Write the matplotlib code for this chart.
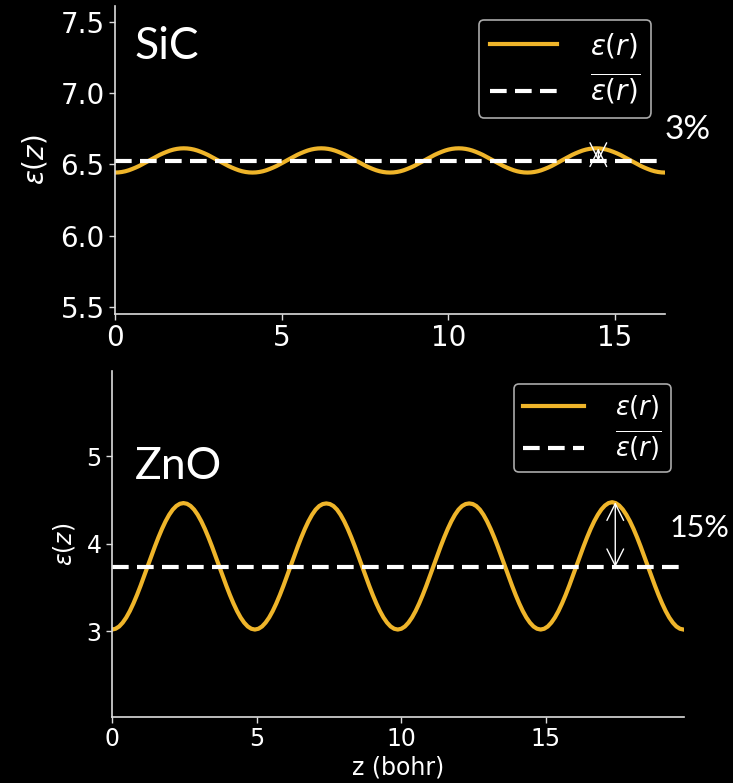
import numpy as np
import matplotlib
matplotlib.use("Agg")
import matplotlib.pyplot as plt

# ---------------- data ----------------
sic_z_max = 16.5
sic_eps = [
    6.442, 6.443, 6.446, 6.451, 6.458, 6.467, 6.477, 6.488, 6.501, 6.514,
    6.527, 6.540, 6.553, 6.566, 6.577, 6.587, 6.596, 6.603, 6.608, 6.611,
    6.612, 6.611, 6.608, 6.603, 6.596, 6.587, 6.577, 6.566, 6.553, 6.540,
    6.527, 6.514, 6.501, 6.488, 6.477, 6.467, 6.458, 6.451, 6.446, 6.443,
    6.442, 6.443, 6.446, 6.451, 6.458, 6.467, 6.477, 6.488, 6.501, 6.514,
    6.527, 6.540, 6.553, 6.566, 6.577, 6.587, 6.596, 6.603, 6.608, 6.611,
    6.612, 6.611, 6.608, 6.603, 6.596, 6.587, 6.577, 6.566, 6.553, 6.540,
    6.527, 6.514, 6.501, 6.488, 6.477, 6.467, 6.458, 6.451, 6.446, 6.443,
    6.442, 6.443, 6.446, 6.451, 6.458, 6.467, 6.477, 6.488, 6.501, 6.514,
    6.527, 6.540, 6.553, 6.566, 6.577, 6.587, 6.596, 6.603, 6.608, 6.611,
    6.612, 6.611, 6.608, 6.603, 6.596, 6.587, 6.577, 6.566, 6.553, 6.540,
    6.527, 6.514, 6.501, 6.488, 6.477, 6.467, 6.458, 6.451, 6.446, 6.443,
    6.442, 6.443, 6.446, 6.451, 6.458, 6.467, 6.477, 6.488, 6.501, 6.514,
    6.527, 6.540, 6.553, 6.566, 6.577, 6.587, 6.596, 6.603, 6.608, 6.611,
    6.612, 6.611, 6.608, 6.603, 6.596, 6.587, 6.577, 6.566, 6.553, 6.540,
    6.527, 6.514, 6.501, 6.488, 6.477, 6.467, 6.458, 6.451, 6.446, 6.443,
    6.442]
sic_mean = 6.523
sic_peak_z = 14.5
sic_label = "3%"

zno_z_max = 19.76
zno_eps = [
    3.020, 3.029, 3.055, 3.099, 3.158, 3.232, 3.319, 3.416, 3.521, 3.632,
    3.745, 3.858, 3.969, 4.074, 4.171, 4.258, 4.332, 4.391, 4.433, 4.458,
    4.466, 4.458, 4.433, 4.391, 4.332, 4.258, 4.171, 4.074, 3.969, 3.858,
    3.745, 3.632, 3.521, 3.416, 3.319, 3.232, 3.158, 3.099, 3.055, 3.029,
    3.020, 3.029, 3.055, 3.099, 3.158, 3.232, 3.319, 3.416, 3.521, 3.632,
    3.745, 3.858, 3.969, 4.074, 4.171, 4.258, 4.332, 4.391, 4.432, 4.455,
    4.462, 4.455, 4.432, 4.391, 4.332, 4.258, 4.171, 4.074, 3.969, 3.858,
    3.745, 3.632, 3.521, 3.416, 3.319, 3.232, 3.158, 3.099, 3.055, 3.029,
    3.020, 3.029, 3.055, 3.099, 3.158, 3.232, 3.319, 3.416, 3.521, 3.632,
    3.745, 3.858, 3.969, 4.074, 4.171, 4.258, 4.332, 4.391, 4.432, 4.455,
    4.462, 4.455, 4.432, 4.391, 4.332, 4.258, 4.171, 4.074, 3.969, 3.858,
    3.745, 3.632, 3.521, 3.416, 3.319, 3.232, 3.158, 3.099, 3.055, 3.029,
    3.020, 3.029, 3.055, 3.099, 3.158, 3.232, 3.319, 3.416, 3.521, 3.632,
    3.745, 3.858, 3.969, 4.074, 4.171, 4.258, 4.332, 4.393, 4.438, 4.466,
    4.476, 4.466, 4.438, 4.393, 4.332, 4.258, 4.171, 4.074, 3.969, 3.858,
    3.745, 3.632, 3.521, 3.416, 3.319, 3.232, 3.158, 3.099, 3.055, 3.029,
    3.020]
zno_mean = 3.733
zno_peak_z = 17.4
zno_label = "15%"

sic_yticks = [5.5, 6.0, 6.5, 7.0, 7.5]
zno_yticks = [3, 4, 5]
xticks = [0, 5, 10, 15]

sic_z = np.linspace(0, sic_z_max, len(sic_eps))
zno_z = np.linspace(0, zno_z_max, len(zno_eps))

# ---------------- style ----------------
GOLD = "#EFB52A"
WHITE = "white"
SPINE = "#DDDDDD"
TITLE_FONT = ["Lato", "DejaVu Sans"]

fig = plt.figure(figsize=(7.33, 7.83), dpi=100, facecolor="black")


def style_axes(ax, fs):
    ax.set_facecolor("black")
    for s in ["top", "right"]:
        ax.spines[s].set_visible(False)
    for s in ["left", "bottom"]:
        ax.spines[s].set_color(SPINE)
        ax.spines[s].set_linewidth(1.2)
    ax.tick_params(colors=SPINE, labelcolor=WHITE, labelsize=fs, width=1.0, length=4)


def panel(ax, z, eps, mean, xmax, ylim, yticks, fs, name, peak_z, peak_val, lbl,
          lbl_xy, lbl_fs, legend_fs, ylabelpad, leg_opts):
    style_axes(ax, fs)
    ax.plot(z, eps, color=GOLD, lw=3, label=r"$\varepsilon(r)$")
    ax.plot([0, xmax], [mean, mean], color=WHITE, lw=3, linestyle=(0, (4, 2)),
            label=r"$\overline{\varepsilon(r)}$")
    ax.set_xlim(0, xmax)
    ax.set_ylim(*ylim)
    ax.set_yticks(yticks)
    ax.set_xticks(xticks)
    ax.set_ylabel(r"$\varepsilon(z)$", color=WHITE, fontsize=fs, labelpad=ylabelpad)
    ax.text(name[1], name[2], name[0], transform=ax.transAxes, color=WHITE,
            fontsize=name[3], family=TITLE_FONT, va="top", ha="left")
    ax.annotate("", xy=(peak_z, peak_val), xytext=(peak_z, mean),
                arrowprops=dict(arrowstyle="<->,head_length=0.6,head_width=0.3",
                                color=WHITE, lw=1.0, shrinkA=0, shrinkB=0,
                                mutation_scale=20))
    ax.text(lbl_xy[0], lbl_xy[1], lbl, transform=ax.transAxes, color=WHITE,
            fontsize=lbl_fs, family=TITLE_FONT, ha="left", va="center",
            clip_on=False)
    leg = ax.legend(loc="upper right", fontsize=legend_fs, facecolor="black",
                    edgecolor="#AAAAAA", framealpha=1.0, **leg_opts)
    for t in leg.get_texts():
        t.set_color(WHITE)
    leg.get_frame().set_linewidth(1.2)


ax1 = fig.add_axes([0.1569, 0.599, 0.7503, 0.3933])
panel(ax1, sic_z, sic_eps, sic_mean, sic_z_max, (5.45, 7.61), sic_yticks, 20,
      ("SiC", 0.036, 0.935, 32), sic_peak_z, max(sic_eps), sic_label,
      (1.0, 0.597), 24, 20, 8,
      dict(handlelength=2.4, borderpad=0.4, labelspacing=0.4, handletextpad=1.2))

ax2 = fig.add_axes([0.1528, 0.0843, 0.7797, 0.4423])
panel(ax2, zno_z, zno_eps, zno_mean, zno_z_max, (2.02, 5.98), zno_yticks, 17,
      ("ZnO", 0.04, 0.782, 32), zno_peak_z, max(zno_eps), zno_label,
      (0.976, 0.546), 22, 18.5, 7,
      dict(handlelength=2.4, borderpad=0.35, labelspacing=0.3, handletextpad=1.2))
ax2.set_xlabel("z (bohr)", color=WHITE, fontsize=17, labelpad=3)

fig.savefig("out.png", dpi=100, facecolor="black")
